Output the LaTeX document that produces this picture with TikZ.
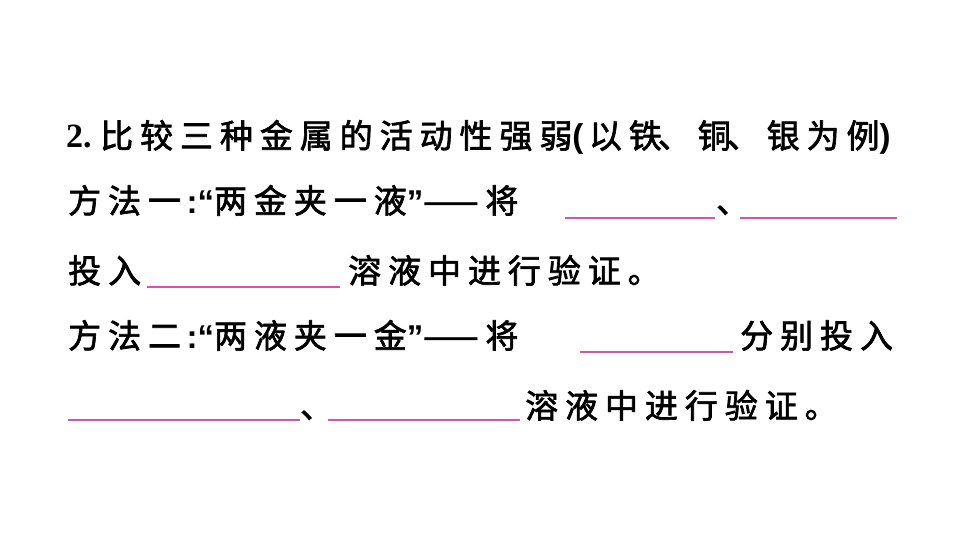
\documentclass[tikz,border=0pt]{standalone}
\usepackage{fontspec}
\newfontfamily\cjk[LetterSpace=21,FakeBold=2]{Noto Sans CJK SC}
\newfontfamily\numf{Liberation Serif}
\newfontfamily\pf{Liberation Sans}
\newcommand{\hp}[1]{{\pf\bfseries #1}}
\definecolor{pinkl}{RGB}{220,80,170}
\tikzset{t/.style={anchor=base west,inner sep=0pt,font=\fontsize{33}{33}\cjk},
 blank/.style={draw=pinkl,line width=1.3pt}}
\begin{document}
\begin{tikzpicture}[x=1pt,y=-1pt]
\useasboundingbox (0,0) rectangle (960,540);
\node[t] (l1a) at (66,148) {\fontsize{34}{34}\numf\bfseries 2.};
\node[t] (l1b) at (100,148) {比较三种金属的活动性强弱\hp{(\,}以铁\kern-4pt、铜\kern-4pt、银为例\hp{)}};
\node[t] (l2a) at (68,213) {方法一\hp{\,:“}两金夹一液\hp{”}——将};
\coordinate (b1s) at (565,218); \coordinate (b1e) at (715,218);
\draw[blank] (b1s) -- (b1e);
\node[t] (l2b) at (716,213) {、};
\coordinate (b2s) at (740,218); \coordinate (b2e) at (897,218);
\draw[blank] (b2s) -- (b2e);
\node[t] (l3a) at (68,283) {投入};
\coordinate (b3s) at (147,287); \coordinate (b3e) at (340,287);
\draw[blank] (b3s) -- (b3e);
\node[t] (l3b) at (348,283) {溶液中进行验证。};
\node[t] (l4a) at (68,348) {方法二\hp{\,:“}两液夹一金\hp{”}——将};
\coordinate (b4s) at (580,352); \coordinate (b4e) at (733,352);
\draw[blank] (b4s) -- (b4e);
\node[t] (l4b) at (740,348) {分别投入};
\coordinate (b5s) at (68,420); \coordinate (b5e) at (300,420);
\draw[blank] (b5s) -- (b5e);
\node[t] (l5a) at (300,418) {、};
\coordinate (b6s) at (328,420); \coordinate (b6e) at (520,420);
\draw[blank] (b6s) -- (b6e);
\node[t] (l5b) at (525,418) {溶液中进行验证。};
\end{tikzpicture}
\end{document}
